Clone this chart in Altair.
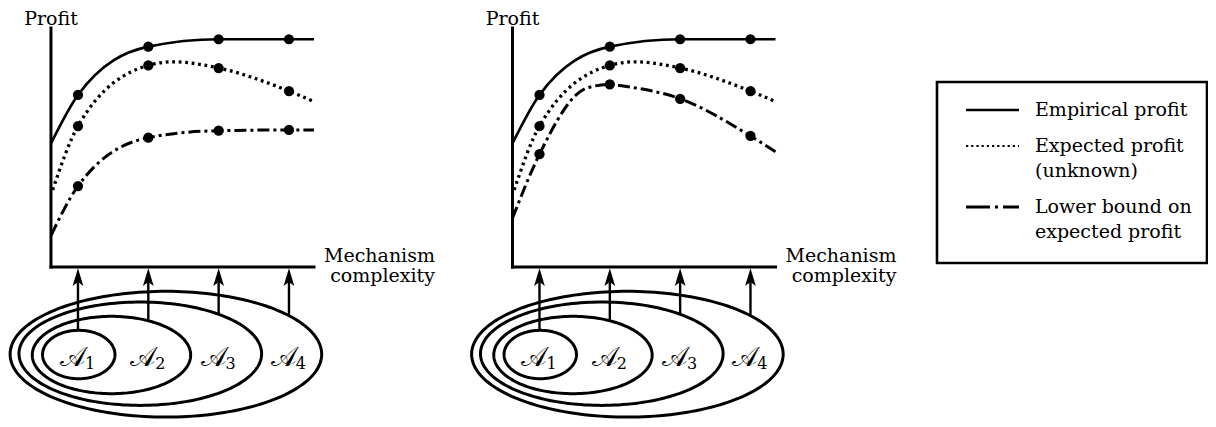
import math
import altair as alt
import numpy as np
import pandas as pd

# ---------------- data ----------------
COMPLEXITY = [1, 2, 3, 4]                      # A1..A4 positions on the complexity axis
SET_NAMES = ["1", "2", "3", "4"]               # subscripts of the nested classes

# curves (complexity, profit) – identical in both panels for the first two
EMPIRICAL_X = [0.616, 1, 2, 3, 4, 4.356]
EMPIRICAL_Y = [5.15, 7.17, 9.18, 9.49, 9.49, 9.49]
EXPECTED_X = [0.64, 1, 2, 2.355, 3, 4, 4.356]
EXPECTED_Y = [3.21, 5.875, 8.40, 8.55, 8.29, 7.33, 6.89]
LOWER_LEFT_X = [0.62, 1, 2, 3, 4, 4.356]
LOWER_LEFT_Y = [1.33, 3.375, 5.39, 5.68, 5.71, 5.71]
LOWER_RIGHT_X = [0.616, 1, 1.667, 2, 2.19, 3, 4, 4.356]
LOWER_RIGHT_Y = [2.03, 4.70, 7.45, 7.61, 7.54, 7.01, 5.46, 4.80]

# nested ellipses (centre / radii, in complexity-profit units)
ELLIPSE_CX = [1.011, 1.476, 1.886, 2.25]
ELLIPSE_RX = [0.515, 1.126, 1.725, 2.215]
ELLIPSE_CY = [-3.646, -3.667, -3.6125, -3.633]
ELLIPSE_RY = [1.008, 1.6125, 2.154, 2.62]
ARROW_BASE = [-2.635, -2.195, -1.975, -1.985]

LEGEND_ENTRIES = [["Empirical profit"], ["Expected profit", "(unknown)"],
                  ["Lower bound on", "expected profit"]]

# ---------------- styling / layout ----------------
FONT = "DejaVu Serif, Liberation Serif, serif"
FS = 19
W, H = 1200, 411
KX, KY = 70.33, 24.0                      # px per complexity unit / per profit unit
X0 = 0.005
X_DOMAIN = [X0, X0 + W / KX]
Y_DOMAIN = [10.792 - H / KY, 10.792]
PANEL_SHIFT = 461.5 / KX                  # second panel sits one panel-width to the right
LEG_LEFT = 923                            # legend block starts here (px from plot left)
AXIS_X0, AXIS_X1, AXIS_Y1 = 0.616, 4.356, 9.96

xs = alt.Scale(domain=X_DOMAIN, nice=False, zero=False)
ys = alt.Scale(domain=Y_DOMAIN, nice=False, zero=False)


def X(f):
    return alt.X(f, type="quantitative", scale=xs, axis=None)


def Y(f):
    return alt.Y(f, type="quantitative", scale=ys, axis=None)


def lx(px):   # legend-local px -> x units
    return X0 + (LEG_LEFT + px) / KX


def ly(py):   # legend-local px (from top) -> y units
    return Y_DOMAIN[1] - py / KY


STYLES = [
    dict(strokeWidth=2.7),
    dict(strokeWidth=3.3, strokeDash=[2.8, 3.7]),
    dict(strokeWidth=3.0, strokeDash=[12, 4, 3, 4]),
]

layers = []
lower_sets = [(LOWER_LEFT_X, LOWER_LEFT_Y), (LOWER_RIGHT_X, LOWER_RIGHT_Y)]

# ellipses
t = np.linspace(0, 2 * math.pi, 181)
rows = []
for pi_ in range(2):
    for i in range(4):
        for j, tt in enumerate(t):
            rows.append({"e": f"{pi_}-{i}", "k": j,
                         "c": ELLIPSE_CX[i] + ELLIPSE_RX[i] * math.cos(tt) + pi_ * PANEL_SHIFT,
                         "p": ELLIPSE_CY[i] + ELLIPSE_RY[i] * math.sin(tt)})
layers.append(alt.Chart(pd.DataFrame(rows)).mark_line(color="black", strokeWidth=3).encode(
    x=X("c"), y=Y("p"), detail="e:N", order="k:Q"))

# arrows
arr = pd.DataFrame({"c": [c + s * PANEL_SHIFT for s in range(2) for c in COMPLEXITY],
                    "b": ARROW_BASE * 2, "top": [-0.6] * 8, "head": [-0.42] * 8})
layers.append(alt.Chart(arr).mark_rule(color="black", strokeWidth=2.4).encode(
    x=X("c"), y=Y("b"), y2="top"))
layers.append(alt.Chart(arr).mark_point(
    shape="M0,-1L0.6,1L0,0.55L-0.6,1Z", filled=True, color="black", opacity=1, size=320,
    strokeWidth=0).encode(x=X("c"), y=Y("head")))

# axes
ax = pd.DataFrame({"c0": [AXIS_X0 + s * PANEL_SHIFT for s in range(2) for _ in range(2)],
                   "c1": [v + s * PANEL_SHIFT for s in range(2) for v in (AXIS_X0, AXIS_X1)],
                   "p0": [0, 0, 0, 0], "p1": [AXIS_Y1, 0, AXIS_Y1, 0]})
layers.append(alt.Chart(ax).mark_rule(color="black", strokeWidth=3, strokeCap="square").encode(
    x=X("c0"), x2="c1", y=Y("p0"), y2="p1"))

# curves and dots
dots = []
for s, (lxv, lyv) in enumerate(lower_sets):
    curves = [(EMPIRICAL_X, EMPIRICAL_Y), (EXPECTED_X, EXPECTED_Y), (lxv, lyv)]
    for (cx, cy), st in zip(curves, STYLES):
        df = pd.DataFrame({"c": [v + s * PANEL_SHIFT for v in cx], "p": cy})
        layers.append(alt.Chart(df).mark_line(color="black", interpolate="monotone", **st).encode(
            x=X("c"), y=Y("p")))
        for a, b in zip(cx, cy):
            if a in COMPLEXITY:
                dots.append({"c": a + s * PANEL_SHIFT, "p": b})
layers.append(alt.Chart(pd.DataFrame(dots)).mark_circle(color="black", opacity=1, size=105).encode(
    x=X("c"), y=Y("p")))

# panel texts
layers.append(alt.Chart(pd.DataFrame({"c": [AXIS_X0, AXIS_X0 + PANEL_SHIFT], "p": [10.1, 10.1],
                                      "t": ["Profit", "Profit"]})).mark_text(
    font=FONT, fontSize=FS, align="center", baseline="alphabetic", color="black").encode(
    x=X("c"), y=Y("p"), text="t:N"))
layers.append(alt.Chart(pd.DataFrame({"c": [6.076, 6.076, 6.076 + PANEL_SHIFT, 6.076 + PANEL_SHIFT],
                                      "p": [0.19, -0.64, 0.19, -0.64],
                                      "t": ["Mechanism", "complexity"] * 2})).mark_text(
    font=FONT, fontSize=FS, align="right", baseline="alphabetic", color="black").encode(
    x=X("c"), y=Y("p"), text="t:N"))
lab = pd.DataFrame({"c": [c + s * PANEL_SHIFT for s in range(2) for c in COMPLEXITY],
                    "p": [-4.12] * 8, "ps": [-4.25] * 8,
                    "t": ["\U0001D49C"] * 8, "s": SET_NAMES * 2})
layers.append(alt.Chart(lab).mark_text(
    font=FONT, fontSize=27, align="center", baseline="alphabetic", color="black", dx=-5).encode(
    x=X("c"), y=Y("p"), text="t:N"))
layers.append(alt.Chart(lab).mark_text(
    font=FONT, fontSize=16, align="center", baseline="alphabetic", color="black", dx=12).encode(
    x=X("c"), y=Y("ps"), text="s:N"))

# ---------------- legend ----------------
text_rows, sample_rows = [], []
yy = 108
for i, lines in enumerate(LEGEND_ENTRIES):
    if i > 0:
        yy += 36
    sample_rows.append(yy - 6)
    for j, ln in enumerate(lines):
        if j > 0:
            yy += 25
        text_rows.append({"t": ln, "x": lx(104), "y": ly(yy)})

layers.append(alt.Chart(pd.DataFrame({"x0": [lx(6)], "x1": [lx(276)], "y0": [ly(74)], "y1": [ly(255)]}))
              .mark_rect(fill=None, stroke="black", strokeWidth=2.6)
              .encode(x=X("x0"), x2="x1", y=Y("y0"), y2="y1"))
layers.append(alt.Chart(pd.DataFrame(text_rows)).mark_text(
    font=FONT, fontSize=FS, align="left", baseline="alphabetic", color="black").encode(
    x=X("x"), y=Y("y"), text="t:N"))
leg_styles = [dict(strokeWidth=2.6), dict(strokeWidth=2.0, strokeDash=[2.2, 3]),
              dict(strokeWidth=3.0, strokeDash=[24, 5, 3, 5])]
for ry, st in zip(sample_rows, leg_styles):
    layers.append(alt.Chart(pd.DataFrame([{"x0": lx(35), "x1": lx(88), "y": ly(ry)}])).mark_rule(
        color="black", **st).encode(x=X("x0"), x2="x1", y=Y("y")))

chart = alt.layer(*layers).properties(
    width=W, height=H, padding=0, autosize=alt.AutoSizeParams(type="none")
).configure_view(stroke=None)

chart.save("out.html", embed_options={"renderer": "svg", "actions": False})
